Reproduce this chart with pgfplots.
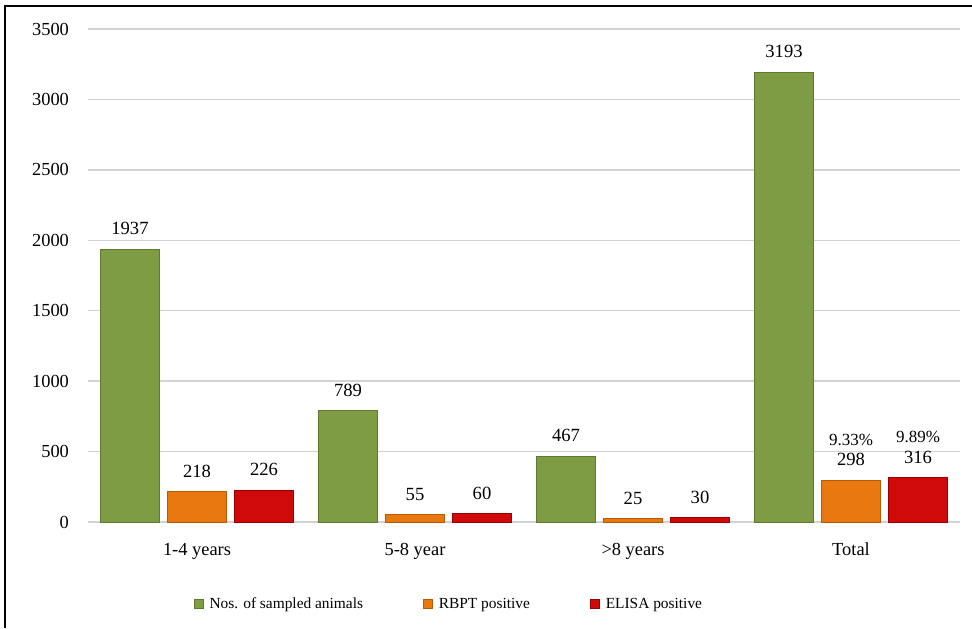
\documentclass[border=0pt]{standalone}
\usepackage{pgfplots}
\pgfplotsset{compat=1.18}
\usepackage{fontspec}
\setmainfont{Liberation Serif}

\definecolor{grn}{HTML}{7E9C44}
\definecolor{grnedge}{HTML}{5E7A2E}
\definecolor{org}{HTML}{E8780F}
\definecolor{orgedge}{HTML}{B85A05}
\definecolor{rd}{HTML}{D00A0A}
\definecolor{rdedge}{HTML}{9A0000}

% labels for the Total bars carry the percentage on top
\newcommand\lblB{\shortstack{{\fontsize{8.5}{9}\selectfont 9.33\%}\\[1pt]298}}
\newcommand\lblC{\shortstack{{\fontsize{8.5}{9}\selectfont 9.89\%}\\[1pt]316}}

\begin{document}
\begin{tikzpicture}[font=\fontsize{9.2}{11}\selectfont]
\useasboundingbox (-44pt,-53pt) rectangle (442pt,261pt);
\begin{axis}[
  at={(0,0)}, anchor=south west,
  scale only axis,
  width=436pt, height=246.5pt,
  ybar,
  bar width=29.5pt,
  xmin=-0.5, xmax=3.5,
  ymin=0, ymax=3500,
  ytick={0,500,...,3500},
  xtick={0,1,2,3},
  xticklabels={1-4 years, 5-8 year, >8 years, Total},
  major tick length=0pt,
  axis line style={draw=none},
  ymajorgrids,
  grid style={gray!35, line width=0.7pt},
  /pgf/number format/assume math mode=true,
  /pgf/number format/set thousands separator={},
  yticklabel style={xshift=-6pt},
  xticklabel style={yshift=-7pt},
  point meta=explicit symbolic,
  nodes near coords,
  every node near coord/.append style={anchor=south, yshift=3.5pt, font=\fontsize{9.3}{11}\selectfont},
  legend columns=3,
  legend style={at={(0.415,-0.168)}, anchor=center, draw=none,
    font=\fontsize{7.7}{9.2}\selectfont,
    /tikz/every odd column/.append style={column sep=1pt},
    /tikz/every even column/.append style={column sep=28pt}},
  legend image code/.code={\fill[#1] (0pt,-2pt) rectangle (4.5pt,2.5pt);},
]
\addplot[fill=grn, draw=grnedge, bar shift=-33.5pt] coordinates {
  (0,1937) [1937] (1,789) [789] (2,467) [467] (3,3193) [3193]
};
\addplot[fill=org, draw=orgedge, bar shift=0pt] coordinates {
  (0,218) [218] (1,55) [55] (2,25) [25] (3,298) [\lblB]
};
\addplot[fill=rd, draw=rdedge, bar shift=33.5pt] coordinates {
  (0,226) [226] (1,60) [60] (2,30) [30] (3,316) [\lblC]
};
\legend{Nos. of sampled animals, RBPT positive, ELISA positive}
\end{axis}
% frame of the chart area (left and top edges only are visible)
\draw[line width=1pt] (-41.5pt,-53pt) -- (-41.5pt,258pt) -- (442pt,258pt);
\end{tikzpicture}
\end{document}
